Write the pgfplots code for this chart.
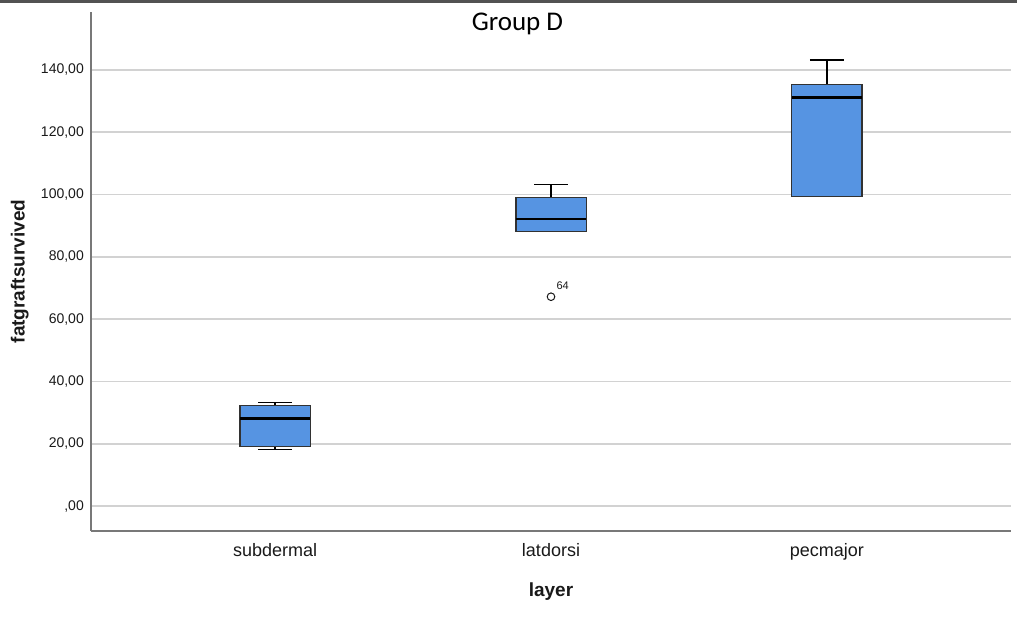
\documentclass[border=0pt]{standalone}
\usepackage{pgfplots}
\pgfplotsset{compat=1.18}
\usepgfplotslibrary{statistics}
\usepackage{fontspec}
\setmainfont{Liberation Sans}
\newfontfamily\titlefont{Carlito}
\definecolor{boxblue}{RGB}{86,148,226}
\definecolor{boxedge}{RGB}{50,50,50}
\definecolor{axgray}{RGB}{120,120,120}
\definecolor{gridgray}{RGB}{210,210,210}
\definecolor{txt}{RGB}{25,25,25}
\begin{document}
\begin{tikzpicture}
\path[use as bounding box] (0,0) rectangle (1017pt,616pt);
\fill[black!68] (0,613pt) rectangle (1017pt,616pt);
\begin{axis}[
  at={(91pt,85pt)}, anchor=south west,
  width=920pt, height=519pt, scale only axis,
  xmin=0.333, xmax=3.667, ymin=-8.0, ymax=158.6,
  axis x line*=bottom, axis y line*=left,
  axis line style={draw=axgray, line width=1.4pt, -},
  major tick length=0pt, tick style={draw=none},
  ymajorgrids, grid style={draw=gridgray, line width=1.6pt},
  xtick={1,2,3}, xticklabels={subdermal,latdorsi,pecmajor},
  ytick={0,20,40,60,80,100,120,140},
  yticklabels={{,00},{20,00},{40,00},{60,00},{80,00},{100,00},{120,00},{140,00}},
  yticklabel style={font=\fontsize{14}{16}\selectfont, text=txt, anchor=east, inner sep=0pt, xshift=-7pt},
  xticklabel style={font=\fontsize{18}{20}\selectfont, text=txt, anchor=north, inner sep=0pt, yshift=-12pt},
  xlabel={\bfseries layer},
  xlabel style={at={(axis description cs:0.5,0)}, anchor=north, yshift=-52pt, inner sep=0pt, font=\fontsize{19}{21}\selectfont, text=txt},
  ylabel={\bfseries fatgraftsurvived},
  ylabel style={at={(axis description cs:-0.0675,0.5)}, anchor=south, inner sep=0pt, font=\fontsize{19}{21}\selectfont, text=txt},
  title={\titlefont Group D},
  title style={at={(axis description cs:0.4635,1)}, anchor=north, yshift=-7pt, inner sep=0pt, font=\fontsize{27}{30}\selectfont, text=black},
  boxplot/draw direction=y,
  boxplot/box extend=0.254,
  boxplot/whisker extend=0.123,
  boxplot/every box/.style={fill=boxblue, draw=boxedge, line width=1.1pt},
  boxplot/every median/.style={draw=black, line width=2.6pt},
  boxplot/every whisker/.style={draw=black, line width=1.3pt},
  clip=false,
]
\addplot[boxplot prepared={draw position=1, lower whisker=18.2, lower quartile=19.0, median=28.2, upper quartile=32.4, upper whisker=33.2}] coordinates {};
\addplot[boxplot prepared={draw position=2, lower whisker=88.2, lower quartile=88.2, median=92.1, upper quartile=99.1, upper whisker=103.3}] coordinates {};
\addplot[boxplot prepared={draw position=3, lower whisker=99.3, lower quartile=99.3, median=131.1, upper quartile=135.2, upper whisker=143.2}] coordinates {};
\addplot[only marks, mark=o, mark size=3.8pt, mark options={draw=txt, line width=1pt},
  nodes near coords, point meta=explicit symbolic,
  every node near coord/.style={anchor=base west, inner sep=0pt, xshift=5pt, yshift=7.5pt, font=\fontsize{11}{12}\selectfont, text=txt}]
  coordinates {(2,67.2) [64]};
\end{axis}
\end{tikzpicture}
\end{document}
